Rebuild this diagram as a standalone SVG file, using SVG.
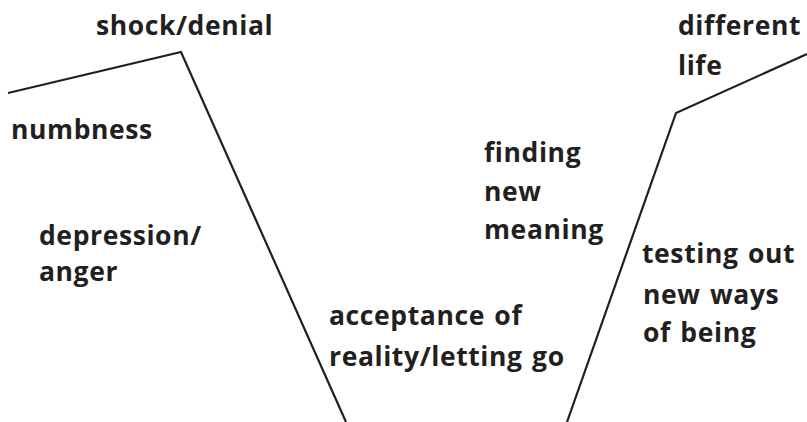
<svg xmlns="http://www.w3.org/2000/svg" width="807" height="422" viewBox="0 0 807 422">
<style>
text{font-family:"Open Sans","Liberation Sans",sans-serif;font-weight:bold;font-size:26.5px;letter-spacing:0.6px;word-spacing:2px;fill:#231f20}
.ln{fill:none;stroke:#231f20;stroke-width:2.2;stroke-linejoin:miter}
</style>
<rect width="807" height="422" fill="#fff"/>
<g id="connectors">
<polyline class="ln" points="8,93 181,52 346,422"/>
<polyline class="ln" points="567,422 676,113 807,54"/>
</g>
<g id="shock"><text x="96" y="35">shock/denial</text></g>
<g id="numbness"><text x="11" y="139">numbness</text></g>
<g id="depression"><text x="39" y="245">depression/</text><text x="39" y="281">anger</text></g>
<g id="acceptance"><text x="329" y="325">acceptance of</text><text x="329" y="366">reality/letting go</text></g>
<g id="finding"><text x="484" y="162">finding</text><text x="484" y="201">new</text><text x="484" y="239">meaning</text></g>
<g id="testing"><text x="642" y="263">testing out</text><text x="643" y="304">new ways</text><text x="643" y="342">of being</text></g>
<g id="different"><text x="678" y="35">different</text><text x="678" y="75">life</text></g>
</svg>
